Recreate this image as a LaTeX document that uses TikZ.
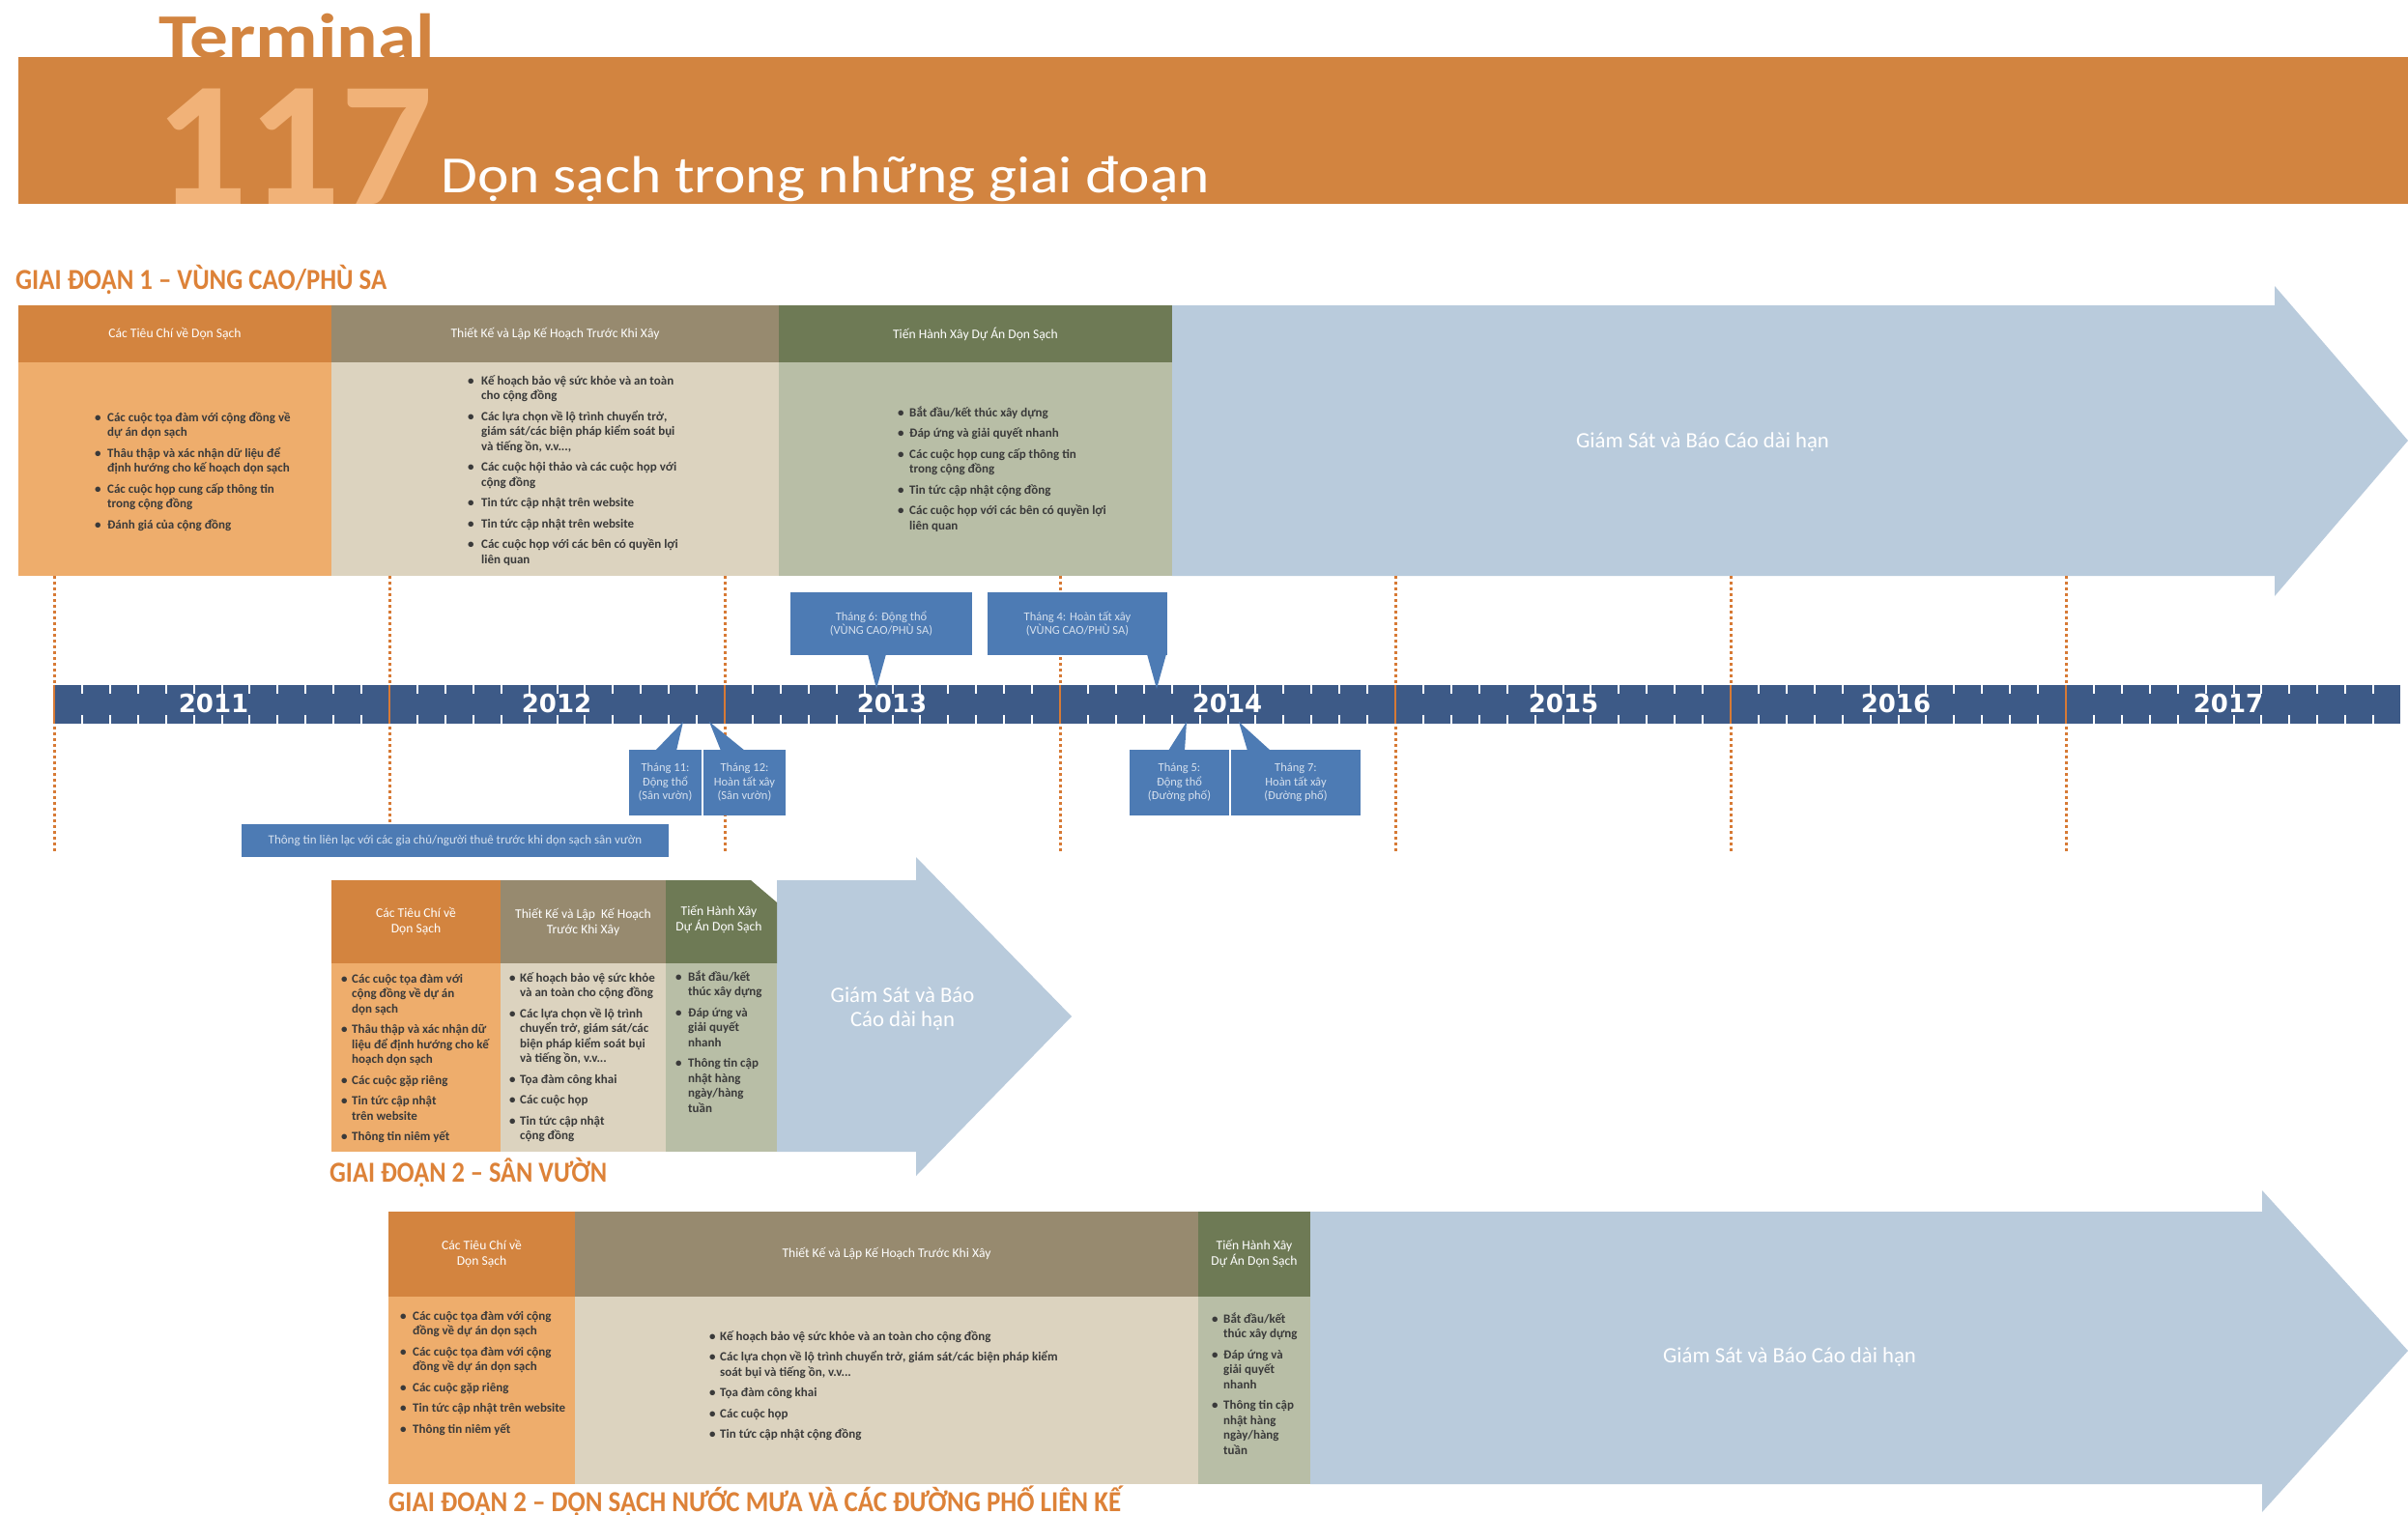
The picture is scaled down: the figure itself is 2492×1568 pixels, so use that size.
\documentclass[tikz,border=0pt]{standalone}
\usepackage{fontspec}
\usepackage{graphicx}
\setmainfont{Carlito}
\newfontfamily\yearfont{DejaVu Sans}
\usetikzlibrary{calc}
\definecolor{bandor}{HTML}{D28440}
\definecolor{numor}{HTML}{F1B278}
\definecolor{lblor}{HTML}{DD8238}
\definecolor{cah}{HTML}{D3843F}
\definecolor{cab}{HTML}{EEAD6C}
\definecolor{cbh}{HTML}{978A6F}
\definecolor{cbb}{HTML}{DCD3BF}
\definecolor{cch}{HTML}{6E7A55}
\definecolor{ccb}{HTML}{B8BEA6}
\definecolor{arrblue}{HTML}{B9CBDC}
\definecolor{barblue}{HTML}{3D5A87}
\definecolor{cblue}{HTML}{4D7BB4}
\definecolor{ctext}{HTML}{D5E0EE}
\definecolor{btext}{HTML}{3A3A3A}
\definecolor{dotor}{HTML}{D77A35}
\newcommand\bl[2]{\begin{tabular}[t]{@{}p{#1}@{}l@{}}#2\end{tabular}}
\newcommand\bu{\textbullet}
\begin{document}
\begin{tikzpicture}[x=1pt,y=-1pt,
  box/.style={anchor=north west,inner sep=0pt,outer sep=0pt},
  hdr/.style={box,text=white,align=center,font=\fontsize{13.6}{16}\selectfont},
  blist/.style={anchor=base west,inner sep=0pt,text=btext,font=\bfseries\fontsize{13}{15.5}\selectfont},
  lbl/.style={anchor=base west,inner sep=0pt,text=lblor,font=\bfseries\fontsize{30}{30}\selectfont},
  cbox/.style={box,fill=cblue,text=ctext,align=center,font=\fontsize{12.5}{14.5}\selectfont},
  arrtxt/.style={inner sep=0pt,text=white,align=center,font=\fontsize{22.7}{25}\selectfont},
  dotln/.style={dotor,line width=3pt,dash pattern=on 3pt off 3pt},
  tk/.style={white,line width=2pt},
  yrlbl/.style={inner sep=0pt,text=white,font=\yearfont\bfseries\fontsize{26}{26}\selectfont}
]
\useasboundingbox (0,0) rectangle (2492,1568);
\fill[white] (0,0) rectangle (2492,1568);

% ---------- header ----------
\node[anchor=base west,inner sep=0pt,text=bandor] (term) at (164,61)
  {\resizebox{286pt}{\height}{\bfseries\fontsize{66}{66}\selectfont Terminal}};
\node[box,fill=bandor,minimum width=2473pt,minimum height=152pt] (band) at (19,59) {};
\begin{scope}
  \clip (19,59) rectangle (2492,211);
  \node[anchor=base west,inner sep=0pt,text=numor] (num) at (160,211)
    {\resizebox{288pt}{\height}{\bfseries\fontsize{184}{184}\selectfont 117}};
\end{scope}
\node[anchor=base west,inner sep=0pt,text=white] (title) at (456,199)
  {\resizebox{796pt}{\height}{\fontsize{54}{54}\selectfont Dọn sạch trong những giai đoạn}};

% ---------- phase 1 ----------
\node[lbl] (lab1) at (16,299) {\resizebox{384pt}{\height}{GIAI ĐOẠN 1 – VÙNG CAO/PHÙ SA}};
\fill[arrblue] (1213,316) -- (2354,316) -- (2354,296) -- (2492,456) -- (2354,617) -- (2354,596) -- (1213,596) -- cycle;
\node[arrtxt] (a1) at (1762,458) {Giám Sát và Báo Cáo dài hạn};
\node[hdr,fill=cah,minimum width=324pt,minimum height=59pt] (p1h1) at (19,316) {Các Tiêu Chí về Dọn Sạch};
\node[hdr,fill=cbh,minimum width=463pt,minimum height=59pt] (p1h2) at (343,316) {Thiết Kế và Lập Kế Hoạch Trước Khi Xây};
\node[hdr,fill=cch,minimum width=407pt,minimum height=59pt] (p1h3) at (806,316) {Tiến Hành Xây Dự Án Dọn Sạch};
\node[box,fill=cab,minimum width=324pt,minimum height=221pt] (p1b1) at (19,375) {};
\node[box,fill=cbb,minimum width=463pt,minimum height=221pt] (p1b2) at (343,375) {};
\node[box,fill=ccb,minimum width=407pt,minimum height=221pt] (p1b3) at (806,375) {};
\node[blist] (p1l1) at (98,436) {\bl{13pt}{%
 \bu & Các cuộc tọa đàm với cộng đồng về\\ & dự án dọn sạch\\[6pt]
 \bu & Thâu thập và xác nhận dữ liệu để\\ & định hướng cho kế hoạch dọn sạch\\[6pt]
 \bu & Các cuộc họp cung cấp thông tin\\ & trong cộng đồng\\[6pt]
 \bu & Đánh giá của cộng đồng}};
\node[blist] (p1l2) at (484,398) {\bl{14pt}{%
 \bu & Kế hoạch bảo vệ sức khỏe và an toàn\\ & cho cộng đồng\\[6pt]
 \bu & Các lựa chọn về lộ trình chuyển trở,\\ & giám sát/các biện pháp kiểm soát bụi\\ & và tiếng ồn, v.v...,\\[6pt]
 \bu & Các cuộc hội thảo và các cuộc họp với\\ & cộng đồng\\[6pt]
 \bu & Tin tức cập nhật trên website\\[6pt]
 \bu & Tin tức cập nhật trên website\\[6pt]
 \bu & Các cuộc họp với các bên có quyền lợi\\ & liên quan}};
\node[blist] (p1l3) at (929,431) {\bl{12pt}{%
 \bu & Bắt đầu/kết thúc xây dựng\\[6pt]
 \bu & Đáp ứng và giải quyết nhanh\\[6pt]
 \bu & Các cuộc họp cung cấp thông tin\\ & trong cộng đồng\\[6pt]
 \bu & Tin tức cập nhật cộng đồng\\[6pt]
 \bu & Các cuộc họp với các bên có quyền lợi\\ & liên quan}};

% ---------- timeline ----------
\foreach \i in {0,...,6}{
  \coordinate (ytop\i) at ({56+347*\i},596);
  \coordinate (ybot\i) at ({56+347*\i},882);
  \draw[dotln] (ytop\i) -- (ybot\i);
}
\node[box,fill=barblue,minimum width=2428pt,minimum height=40pt] (bar) at (56,709) {};
\foreach \m in {1,...,83}{
  \pgfmathtruncatemacro\r{mod(\m,12)}
  \ifnum\r=0\relax\else
    \draw[tk] ({56+\m*28.9167},709) -- ++(0,9);
    \draw[tk] ({56+\m*28.9167},749) -- ++(0,-9);
  \fi
}
\foreach \i in {0,...,6}{
  \draw[dotor,line width=2pt] ({56+347*\i},709) -- ++(0,40);
}
\node[yrlbl] (y2011) at (221,728) {2011};
\node[yrlbl] (y2012) at (576,728) {2012};
\node[yrlbl] (y2013) at (923,728) {2013};
\node[yrlbl] (y2014) at (1270,728) {2014};
\node[yrlbl] (y2015) at (1618,728) {2015};
\node[yrlbl] (y2016) at (1962,728) {2016};
\node[yrlbl] (y2017) at (2306,728) {2017};

% callouts above
\node[cbox,minimum width=188pt,minimum height=65pt] (cA) at (818,613) {Tháng 6: Động thổ\\(VÙNG CAO/PHÙ SA)};
\node[cbox,minimum width=186pt,minimum height=65pt] (cB) at (1022,613) {Tháng 4: Hoàn tất xây\\(VÙNG CAO/PHÙ SA)};
\coordinate (tA) at (907,713);
\coordinate (tB) at (1197,713);
\fill[cblue] ($(cA.south west)+(80,-1)$) -- (tA) -- ($(cA.south west)+(99,-1)$) -- cycle;
\fill[cblue] ($(cB.south west)+(165,-1)$) -- (tB) -- ($(cB.south west)+(185,-1)$) -- cycle;

% callouts below
\node[cbox,minimum width=75pt,minimum height=68pt] (cS1) at (651,776) {Tháng 11:\\Động thổ\\(Sân vườn)};
\node[cbox,minimum width=85pt,minimum height=68pt] (cS2) at (728,776) {Tháng 12:\\Hoàn tất xây\\(Sân vườn)};
\node[cbox,minimum width=103pt,minimum height=68pt] (cD1) at (1169,776) {Tháng 5:\\Động thổ\\(Đường phố)};
\node[cbox,minimum width=134pt,minimum height=68pt] (cD2) at (1274,776) {Tháng 7:\\Hoàn tất xây\\(Đường phố)};
\coordinate (tS1) at (707,747);
\coordinate (tS2) at (734,747);
\coordinate (tD1) at (1228,747);
\coordinate (tD2) at (1282,747);
\fill[cblue] ($(cS1.north west)+(27,1)$) -- (tS1) -- ($(cS1.north west)+(49,1)$) -- cycle;
\fill[cblue] ($(cS2.north west)+(18,1)$) -- (tS2) -- ($(cS2.north west)+(43,1)$) -- cycle;
\fill[cblue] ($(cD1.north west)+(40,1)$) -- (tD1) -- ($(cD1.north west)+(57,1)$) -- cycle;
\fill[cblue] ($(cD2.north west)+(17,1)$) -- (tD2) -- ($(cD2.north west)+(41,1)$) -- cycle;
\node[cbox,minimum width=442pt,minimum height=34pt,font=\fontsize{13}{14.5}\selectfont] (info) at (250,853) {Thông tin liên lạc với các gia chủ/người thuê trước khi dọn sạch sân vườn};

% ---------- phase 2 ----------
\fill[arrblue] (804,911) -- (948,911) -- (948,887) -- (1109,1052) -- (948,1217) -- (948,1192) -- (804,1192) -- cycle;
\node[arrtxt] (a2) at (934,1044) {Giám Sát và Báo\\Cáo dài hạn};
\node[hdr,fill=cah,minimum width=175pt,minimum height=86pt] (p2h1) at (343,911) {Các Tiêu Chí về\\Dọn Sạch};
\node[hdr,fill=cbh,minimum width=171pt,minimum height=86pt] (p2h2) at (518,911) {Thiết Kế và Lập \ Kế Hoạch\\Trước Khi Xây};
\fill[cch] (689,911) -- (777,911) -- (804,934) -- (804,997) -- (689,997) -- cycle;
\node[inner sep=0pt,text=white,align=center,font=\fontsize{13.6}{16}\selectfont] (p2h3) at (744,952) {Tiến Hành Xây\\Dự Án Dọn Sạch};
\node[box,fill=cab,minimum width=175pt,minimum height=195pt] (p2b1) at (343,997) {};
\node[box,fill=cbb,minimum width=171pt,minimum height=195pt] (p2b2) at (518,997) {};
\node[box,fill=ccb,minimum width=115pt,minimum height=195pt] (p2b3) at (689,997) {};
\node[blist] (p2l1) at (353,1017) {\bl{11pt}{%
 \bu & Các cuộc tọa đàm với\\ & cộng đồng về dự án\\ & dọn sạch\\[6pt]
 \bu & Thâu thập và xác nhận dữ\\ & liệu để định hướng cho kế\\ & hoạch dọn sạch\\[6pt]
 \bu & Các cuộc gặp riêng\\[6pt]
 \bu & Tin tức cập nhật\\ & trên website\\[6pt]
 \bu & Thông tin niêm yết}};
\node[blist] (p2l2) at (527,1016) {\bl{11pt}{%
 \bu & Kế hoạch bảo vệ sức khỏe\\ & và an toàn cho cộng đồng\\[6pt]
 \bu & Các lựa chọn về lộ trình\\ & chuyển trở, giám sát/các\\ & biện pháp kiểm soát bụi\\ & và tiếng ồn, v.v...\\[6pt]
 \bu & Tọa đàm công khai\\[6pt]
 \bu & Các cuộc họp\\[6pt]
 \bu & Tin tức cập nhật\\ & cộng đồng}};
\node[blist] (p2l3) at (699,1015) {\bl{13pt}{%
 \bu & Bắt đầu/kết\\ & thúc xây dựng\\[6pt]
 \bu & Đáp ứng và\\ & giải quyết\\ & nhanh\\[6pt]
 \bu & Thông tin cập\\ & nhật hàng\\ & ngày/hàng\\ & tuần}};
\node[lbl] (lab2) at (341,1223) {\resizebox{287pt}{\height}{GIAI ĐOẠN 2 – SÂN VƯỜN}};

% ---------- phase 3 ----------
\fill[arrblue] (1356,1254) -- (2341,1254) -- (2341,1232) -- (2492,1398) -- (2341,1565) -- (2341,1536) -- (1356,1536) -- cycle;
\node[arrtxt] (a3) at (1852,1405) {Giám Sát và Báo Cáo dài hạn};
\node[hdr,fill=cah,minimum width=193pt,minimum height=88pt] (p3h1) at (402,1254) {Các Tiêu Chí về\\Dọn Sạch};
\node[hdr,fill=cbh,minimum width=645pt,minimum height=88pt] (p3h2) at (595,1254) {Thiết Kế và Lập Kế Hoạch Trước Khi Xây};
\node[hdr,fill=cch,minimum width=116pt,minimum height=88pt] (p3h3) at (1240,1254) {Tiến Hành Xây\\Dự Án Dọn Sạch};
\node[box,fill=cab,minimum width=193pt,minimum height=194pt] (p3b1) at (402,1342) {};
\node[box,fill=cbb,minimum width=645pt,minimum height=194pt] (p3b2) at (595,1342) {};
\node[box,fill=ccb,minimum width=116pt,minimum height=194pt] (p3b3) at (1240,1342) {};
\node[blist] (p3l1) at (414,1366) {\bl{13pt}{%
 \bu & Các cuộc tọa đàm với cộng\\ & đồng về dự án dọn sạch\\[6pt]
 \bu & Các cuộc tọa đàm với cộng\\ & đồng về dự án dọn sạch\\[6pt]
 \bu & Các cuộc gặp riêng\\[6pt]
 \bu & Tin tức cập nhật trên website\\[6pt]
 \bu & Thông tin niêm yết}};
\node[blist] (p3l2) at (734,1387) {\bl{11pt}{%
 \bu & Kế hoạch bảo vệ sức khỏe và an toàn cho cộng đồng\\[6pt]
 \bu & Các lựa chọn về lộ trình chuyển trở, giám sát/các biện pháp kiểm\\ & soát bụi và tiếng ồn, v.v...\\[6pt]
 \bu & Tọa đàm công khai\\[6pt]
 \bu & Các cuộc họp\\[6pt]
 \bu & Tin tức cập nhật cộng đồng}};
\node[blist] (p3l3) at (1254,1369) {\bl{12pt}{%
 \bu & Bắt đầu/kết\\ & thúc xây dựng\\[6pt]
 \bu & Đáp ứng và\\ & giải quyết\\ & nhanh\\[6pt]
 \bu & Thông tin cập\\ & nhật hàng\\ & ngày/hàng\\ & tuần}};
\node[lbl] (lab3) at (402,1564) {\resizebox{758pt}{\height}{GIAI ĐOẠN 2 – DỌN SẠCH NƯỚC MƯA VÀ CÁC ĐƯỜNG PHỐ LIÊN KẾ}};
\end{tikzpicture}
\end{document}
